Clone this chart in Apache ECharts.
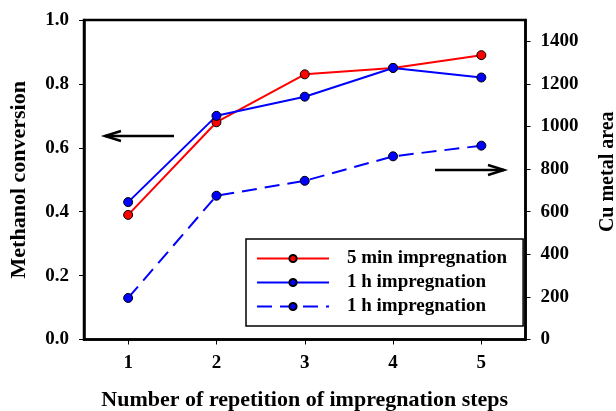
<!DOCTYPE html>
<html>
<head>
<meta charset="utf-8">
<script src="https://cdn.jsdelivr.net/npm/echarts@6/dist/echarts.min.js"></script>
<style>html,body{margin:0;padding:0;background:#fff;}#c{width:616px;height:411px;}</style>
</head>
<body>
<div id="c"></div>
<script>
const categories = ['1', '2', '3', '4', '5'];
const conv5min = [0.39, 0.68, 0.83, 0.85, 0.89];
const conv1h = [0.43, 0.70, 0.76, 0.85, 0.82];
const cuArea1h = [195, 675, 745, 860, 910];
const seriesLabels = ['5 min impregnation', '1 h impregnation', '1 h impregnation'];
const seriesKeys = ['s0', 's1', 's2'];
const xTitle = 'Number of repetition of impregnation steps';
const leftTitle = 'Methanol conversion';
const rightTitle = 'Cu metal area';

const FONT = "'Liberation Serif', 'Times New Roman', serif";
const chart = echarts.init(document.getElementById('c'), null, {renderer: 'canvas'});

function arrow(x1, x2, y, dir) {
  const tip = x2;
  const back = tip - dir * 16;
  return [
    {type: 'line', shape: {x1: x1, y1: y, x2: x2, y2: y}, style: {stroke: '#000', lineWidth: 2.5}},
    {type: 'polyline', shape: {points: [[back, y - 5], [tip, y], [back, y + 5]]}, style: {stroke: '#000', lineWidth: 2.5, fill: null}}
  ];
}

const tickStyle = {show: true, length: 5, lineStyle: {color: '#000', width: 1}};
const labelStyle = {fontFamily: FONT, fontWeight: 'bold', fontSize: 19, color: '#000'};

chart.setOption({
  animation: false,
  backgroundColor: '#fff',
  grid: {left: 84, right: 90.5, top: 20, bottom: 71.5, containLabel: false, outerBoundsMode: 'none', show: true, borderColor: '#000', borderWidth: 2.5, backgroundColor: 'transparent'},
  legend: {
    orient: 'vertical',
    left: 246, top: 239,
    data: seriesKeys,
    formatter: function (n) { return seriesLabels[seriesKeys.indexOf(n)]; },
    itemWidth: 72, itemHeight: 9, itemGap: 5,
    padding: [10, 16, 10, 10],
    borderColor: '#000', borderWidth: 1.5,
    backgroundColor: '#fff',
    textStyle: {fontFamily: FONT, fontWeight: 'bold', fontSize: 19, color: '#000', padding: [0, 0, 0, 13], lineHeight: 19}
  },
  xAxis: {
    type: 'category', data: categories, boundaryGap: true,
    name: xTitle, nameLocation: 'middle', nameGap: 50,
    nameTextStyle: {fontFamily: FONT, fontWeight: 'bold', fontSize: 22, color: '#000'},
    axisLine: {lineStyle: {color: '#000', width: 2.5}},
    axisTick: Object.assign({alignWithLabel: true}, tickStyle),
    axisLabel: Object.assign({margin: 14}, labelStyle),
    splitLine: {show: false}
  },
  yAxis: [
    {
      type: 'value', min: 0, max: 1, interval: 0.2, position: 'left',
      name: leftTitle, nameLocation: 'middle', nameGap: 54,
      nameTextStyle: {fontFamily: FONT, fontWeight: 'bold', fontSize: 22, color: '#000'},
      axisLine: {show: true, lineStyle: {color: '#000', width: 2.5}},
      axisTick: tickStyle,
      axisLabel: Object.assign({margin: 15, formatter: function (v) { return v.toFixed(1); }}, labelStyle),
      splitLine: {show: false}
    },
    {
      type: 'value', min: 0, max: 1500, interval: 200, position: 'right',
      name: rightTitle, nameLocation: 'middle', nameGap: 72,
      nameTextStyle: {fontFamily: FONT, fontWeight: 'bold', fontSize: 20, color: '#000', padding: [0, 0, 0, 16]},
      axisLine: {show: true, lineStyle: {color: '#000', width: 2.5}},
      axisTick: tickStyle,
      axisLabel: Object.assign({margin: 15, showMaxLabel: false, formatter: function (v) { return v > 1400 ? '' : String(v); }}, labelStyle),
      splitLine: {show: false}
    }
  ],
  series: [
    {
      name: seriesKeys[0], type: 'line', yAxisIndex: 0, data: conv5min,
      symbol: 'circle', symbolSize: 9,
      lineStyle: {color: '#ff0000', width: 2},
      itemStyle: {color: '#ff0000', borderColor: '#000', borderWidth: 1}
    },
    {
      name: seriesKeys[1], type: 'line', yAxisIndex: 0, data: conv1h,
      symbol: 'circle', symbolSize: 9,
      lineStyle: {color: '#0000ff', width: 2},
      itemStyle: {color: '#0000ff', borderColor: '#000', borderWidth: 1}
    },
    {
      name: seriesKeys[2], type: 'line', yAxisIndex: 1, data: cuArea1h,
      symbol: 'circle', symbolSize: 9,
      lineStyle: {color: '#0000ff', width: 2, type: [15, 8]},
      itemStyle: {color: '#0000ff', borderColor: '#000', borderWidth: 1}
    }
  ],
  graphic: arrow(174, 105, 136, -1).concat(arrow(435, 504, 170, 1))
});
</script>
</body>
</html>
